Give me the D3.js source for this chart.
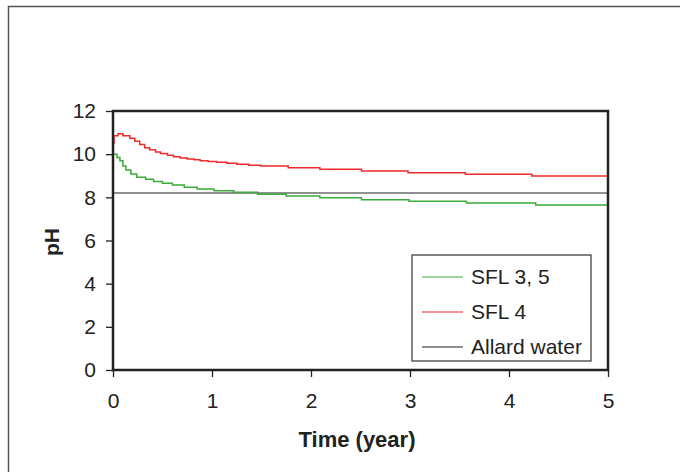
<!DOCTYPE html>
<html>
<head>
<meta charset="utf-8">
<script src="https://cdn.jsdelivr.net/npm/d3@7"></script>
<style>
  body { margin: 0; background: #fff; }
  svg { display: block; font-family: "Liberation Sans", Arial, sans-serif; }
</style>
</head>
<body>
<div id="chart"></div>
<script>
// SFL 4 (red)
const sfl4Time = [0, 0.01, 0.05, 0.1, 0.17, 0.22, 0.27, 0.32, 0.37, 0.43, 0.48, 0.55, 0.61, 0.68, 0.75, 0.82, 0.88, 0.96, 1.05, 1.15, 1.25, 1.37, 1.49, 1.77, 2.09, 2.51, 2.98, 3.56, 4.23, 5];
const sfl4PH = [10.5, 10.85, 10.95, 10.85, 10.74, 10.6, 10.45, 10.3, 10.2, 10.1, 10.03, 9.95, 9.88, 9.82, 9.78, 9.74, 9.7, 9.66, 9.62, 9.58, 9.53, 9.49, 9.45, 9.37, 9.30, 9.22, 9.14, 9.07, 8.99, 8.99];
// SFL 3, 5 (green)
const sfl35Time = [0, 0.04, 0.07, 0.1, 0.13, 0.18, 0.24, 0.33, 0.41, 0.5, 0.6, 0.72, 0.85, 1.02, 1.22, 1.46, 1.75, 2.09, 2.51, 2.99, 3.57, 4.27, 5];
const sfl35PH = [10.0, 9.85, 9.7, 9.45, 9.27, 9.08, 8.93, 8.84, 8.73, 8.65, 8.57, 8.47, 8.39, 8.31, 8.23, 8.14, 8.06, 7.98, 7.89, 7.82, 7.74, 7.65, 7.65];
// Allard water (black)
const allardTime = [0, 5];
const allardPH = [8.2, 8.2];

const xTicks = [0, 1, 2, 3, 4, 5];
const yTicks = [0, 2, 4, 6, 8, 10, 12];

const legendNames = ["SFL 3, 5", "SFL 4", "Allard water"];
const colors = ["#3aaa3a", "#ee2a2a", "#222"];

const W = 680, H = 472;
const margin = { top: 111, right: 72, bottom: 102, left: 113 };
const width = W - margin.left - margin.right;
const height = H - margin.top - margin.bottom;

const svg = d3.select("#chart").append("svg")
    .attr("width", W)
    .attr("height", H);

// outer frame (top + left edges visible)
svg.append("path")
    .attr("d", "M8.5," + H + " V6.5 H" + W)
    .attr("fill", "none")
    .attr("stroke", "#555")
    .attr("stroke-width", 1.5);

const g = svg.append("g").attr("transform", "translate(" + margin.left + "," + margin.top + ")");

const x = d3.scaleLinear().domain([0, 5]).range([0, width]);
const y = d3.scaleLinear().domain([0, 12]).range([height, 0]);

const toPts = (t, v) => t.map((d, i) => ({ t: d, v: v[i] }));
const series = [toPts(sfl35Time, sfl35PH), toPts(sfl4Time, sfl4PH), toPts(allardTime, allardPH)];

const line = d3.line()
    .x(d => x(d.t))
    .y(d => y(d.v))
    .curve(d3.curveStepAfter);

// draw Allard first, then curves
[2, 0, 1].forEach(i => {
    g.append("path")
        .datum(series[i])
        .attr("fill", "none")
        .attr("stroke", colors[i])
        .attr("stroke-width", i == 2 ? 1.2 : 1.5)
        .attr("d", line);
});

// plot border
g.append("rect")
    .attr("width", width)
    .attr("height", height)
    .attr("fill", "none")
    .attr("stroke", "#222")
    .attr("stroke-width", 2.5);

const xAxis = g.append("g")
    .attr("transform", "translate(0," + height + ")")
    .call(d3.axisBottom(x).tickValues(xTicks).tickSize(7).tickPadding(16).tickFormat(d3.format("d")));
const yAxis = g.append("g")
    .call(d3.axisLeft(y).tickValues(yTicks).tickSize(7).tickPadding(10).tickFormat(d3.format("d")));

[xAxis, yAxis].forEach(a => {
    a.select(".domain").remove();
    a.selectAll(".tick line").attr("stroke", "#222").attr("stroke-width", 1.3);
    a.selectAll(".tick text")
        .attr("fill", "#222")
        .style("font-size", "21px")
        .style("font-family", "Liberation Sans, Arial, sans-serif");
});

// axis titles
svg.append("text")
    .attr("x", 357)
    .attr("y", 447)
    .attr("text-anchor", "middle")
    .style("font-size", "22px")
    .style("font-weight", "bold")
    .attr("fill", "#222")
    .text("Time (year)");

svg.append("text")
    .attr("transform", "translate(59,242) rotate(-90)")
    .attr("text-anchor", "middle")
    .style("font-size", "21px")
    .style("font-weight", "bold")
    .attr("fill", "#222")
    .text("pH");

// legend
const leg = svg.append("g").attr("transform", "translate(412,255)");
leg.append("rect")
    .attr("width", 179)
    .attr("height", 106)
    .attr("fill", "#fff")
    .attr("stroke", "#333")
    .attr("stroke-width", 1.2);
legendNames.forEach((name, i) => {
    const ly = 22 + i * 35;
    leg.append("line")
        .attr("x1", 10).attr("x2", 51)
        .attr("y1", ly).attr("y2", ly)
        .attr("stroke", colors[i])
        .attr("stroke-width", 1.2);
    leg.append("text")
        .attr("x", 59)
        .attr("y", ly)
        .attr("dy", "0.35em")
        .style("font-size", "21px")
        .attr("fill", "#222")
        .text(name);
});
</script>
</body>
</html>
